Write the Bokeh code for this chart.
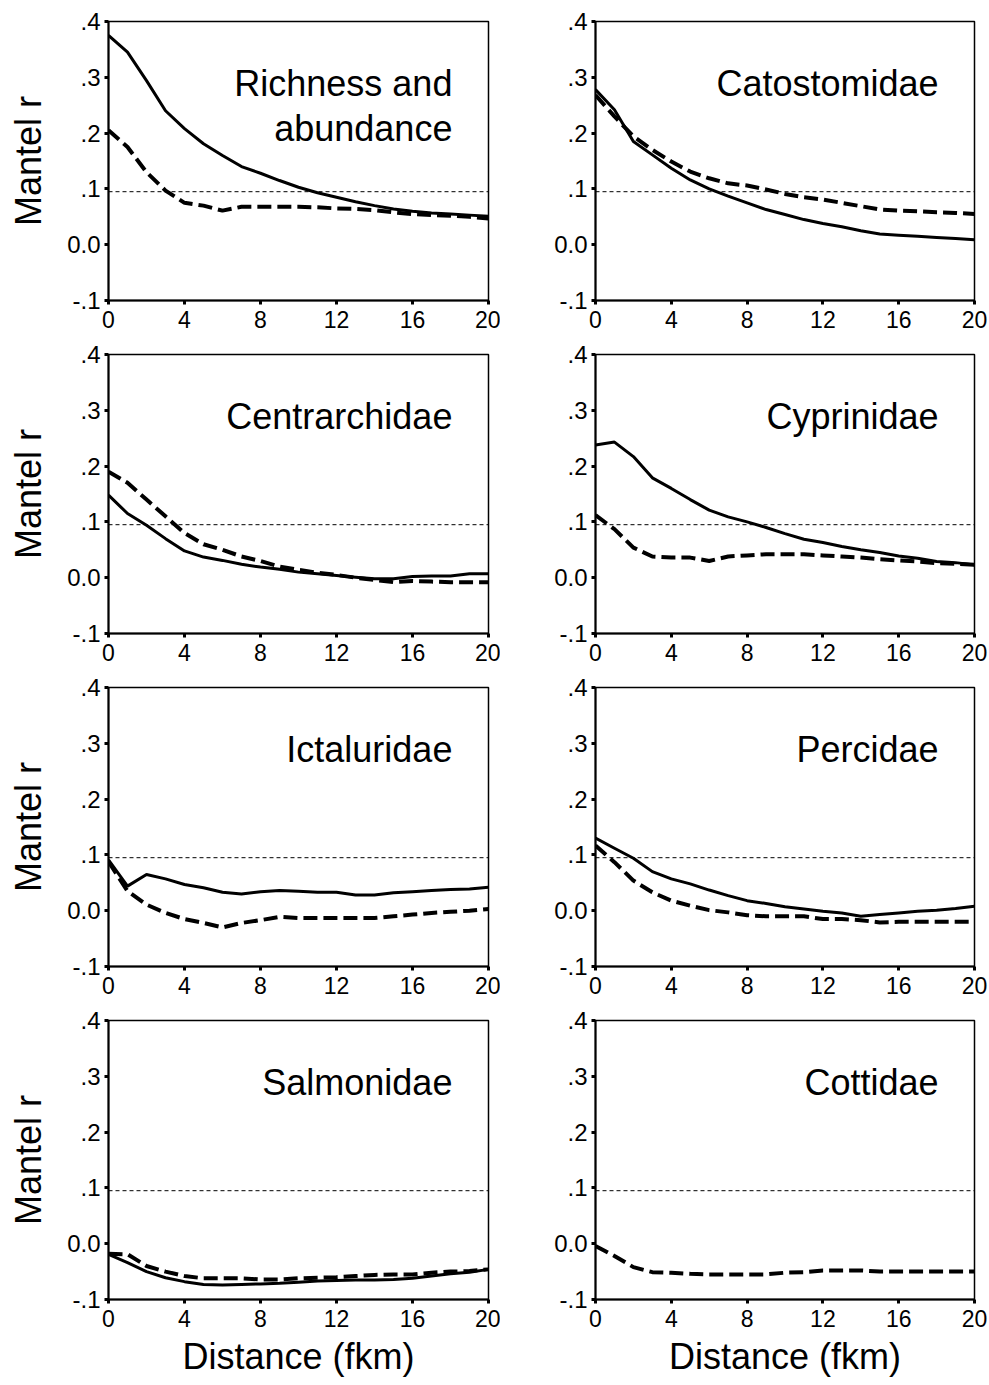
from bokeh.plotting import figure
from bokeh.layouts import gridplot
from bokeh.models import Span, Label, FixedTicker, Range1d
from bokeh.embed import file_html
from bokeh.resources import INLINE

# ---------------- data ----------------
DIST = [0, 1, 2, 3, 4, 5, 6, 7, 8, 9, 10, 11, 12, 13, 14, 15, 16, 17, 18, 19, 20]
X_TICKS = [0, 4, 8, 12, 16, 20]
Y_TICKS = [-0.1, 0, 0.1, 0.2, 0.3, 0.4]
Y_TICK_LABELS = ["-.1", "0.0", ".1", ".2", ".3", ".4"]
CRIT_R = 0.095

TITLES = [
    ["Richness and", "abundance"],
    ["Catostomidae"],
    ["Centrarchidae"],
    ["Cyprinidae"],
    ["Ictaluridae"],
    ["Percidae"],
    ["Salmonidae"],
    ["Cottidae"],
]

rich_solid = [0.375, 0.345, 0.294, 0.240, 0.208, 0.181, 0.160, 0.140, 0.128, 0.115, 0.103,
              0.093, 0.085, 0.077, 0.070, 0.064, 0.060, 0.057, 0.055, 0.053, 0.051]
rich_dash = [0.205, 0.175, 0.130, 0.097, 0.075, 0.070, 0.061, 0.068, 0.068, 0.068, 0.068,
             0.067, 0.065, 0.064, 0.062, 0.058, 0.055, 0.053, 0.052, 0.050, 0.047]

cato_solid = [0.278, 0.242, 0.185, 0.161, 0.137, 0.116, 0.100, 0.087, 0.075, 0.063, 0.054,
              0.045, 0.038, 0.032, 0.025, 0.019, 0.017, 0.015, 0.013, 0.011, 0.009]
cato_dash = [0.268, 0.230, 0.194, 0.170, 0.149, 0.131, 0.119, 0.110, 0.106, 0.099, 0.091,
             0.085, 0.081, 0.075, 0.069, 0.063, 0.061, 0.060, 0.058, 0.057, 0.055]

cent_solid = [0.148, 0.115, 0.094, 0.070, 0.048, 0.037, 0.031, 0.024, 0.019, 0.015, 0.010,
              0.007, 0.004, 0.001, -0.002, -0.002, 0.002, 0.003, 0.003, 0.007, 0.007]
cent_dash = [0.190, 0.170, 0.140, 0.110, 0.080, 0.060, 0.050, 0.038, 0.030, 0.020, 0.014,
             0.009, 0.005, 0.000, -0.004, -0.008, -0.006, -0.007, -0.008, -0.008, -0.008]

cypr_solid = [0.238, 0.243, 0.217, 0.179, 0.160, 0.140, 0.121, 0.109, 0.100, 0.090, 0.079,
              0.069, 0.063, 0.056, 0.050, 0.045, 0.039, 0.035, 0.029, 0.027, 0.023]
cypr_dash = [0.112, 0.087, 0.054, 0.038, 0.036, 0.036, 0.030, 0.038, 0.040, 0.042, 0.042,
             0.042, 0.040, 0.038, 0.036, 0.033, 0.031, 0.029, 0.026, 0.025, 0.023]

icta_solid = [0.091, 0.044, 0.065, 0.057, 0.047, 0.041, 0.033, 0.030, 0.034, 0.036, 0.035,
              0.033, 0.033, 0.028, 0.028, 0.032, 0.034, 0.036, 0.038, 0.039, 0.042]
icta_dash = [0.088, 0.035, 0.011, -0.004, -0.015, -0.022, -0.030, -0.022, -0.017, -0.011, -0.013,
             -0.013, -0.013, -0.013, -0.013, -0.010, -0.007, -0.004, -0.002, 0.000, 0.003]

perc_solid = [0.130, 0.112, 0.094, 0.070, 0.057, 0.048, 0.037, 0.027, 0.018, 0.013, 0.007,
              0.003, -0.001, -0.004, -0.010, -0.007, -0.004, -0.001, 0.001, 0.004, 0.008]
perc_dash = [0.117, 0.087, 0.054, 0.033, 0.018, 0.009, 0.001, -0.003, -0.008, -0.010, -0.010,
             -0.010, -0.015, -0.015, -0.017, -0.021, -0.020, -0.020, -0.020, -0.020, -0.020]

salm_solid = [-0.019, -0.034, -0.050, -0.061, -0.068, -0.073, -0.074, -0.073, -0.072, -0.071, -0.069,
              -0.067, -0.066, -0.065, -0.065, -0.064, -0.062, -0.058, -0.054, -0.051, -0.046]
salm_dash = [-0.018, -0.019, -0.040, -0.050, -0.058, -0.062, -0.062, -0.062, -0.064, -0.064, -0.062,
             -0.061, -0.060, -0.058, -0.056, -0.055, -0.055, -0.052, -0.050, -0.049, -0.046]

cott_solid = None
cott_dash = [-0.004, -0.022, -0.042, -0.051, -0.052, -0.054, -0.055, -0.055, -0.055, -0.055, -0.052,
             -0.051, -0.048, -0.048, -0.048, -0.050, -0.050, -0.050, -0.050, -0.050, -0.050]

SOLID = [rich_solid, cato_solid, cent_solid, cypr_solid, icta_solid, perc_solid, salm_solid, cott_solid]
DASHED = [rich_dash, cato_dash, cent_dash, cypr_dash, icta_dash, perc_dash, salm_dash, cott_dash]

# ---------------- styling ----------------
FONT = "Liberation Sans"
X_TICK_SIZE = "23px"
Y_TICK_SIZE = "24px"
AXIS_LABEL_SIZE = "36px"
TITLE_SIZE = "36px"


def make_panel(idx):
    col = idx % 2
    row = idx // 2
    left = col == 0
    bottom = row == 3
    top = row == 0
    width = 500 if left else 489
    border_top = 21 if top else 17
    border_bottom = 86 if bottom else 37
    height = border_top + 279 + border_bottom
    p = figure(width=width, height=height, output_backend="svg", toolbar_location=None,
               x_range=Range1d(0, 20), y_range=Range1d(-0.1, 0.4),
               min_border=0)
    p.min_border_left = 108 if left else 95
    p.min_border_right = 12 if left else 15
    p.min_border_top = border_top
    p.min_border_bottom = border_bottom
    p.background_fill_color = "white"
    p.border_fill_color = "white"
    p.outline_line_color = "black"
    p.outline_line_width = 1.5
    p.xgrid.visible = False
    p.ygrid.visible = False

    for ax in (p.xaxis[0], p.yaxis[0]):
        ax.axis_line_color = "black"
        ax.axis_line_width = 2
        ax.major_tick_line_color = "black"
        ax.major_tick_line_width = 3
        ax.major_tick_out = 4
        ax.major_tick_in = 0
        ax.minor_tick_line_color = None
        ax.major_label_text_font = FONT
        ax.major_label_text_color = "black"
        ax.axis_label_text_font = FONT
        ax.axis_label_text_font_size = AXIS_LABEL_SIZE
        ax.axis_label_text_font_style = "normal"
        ax.axis_label_text_color = "black"

    p.xaxis.major_label_text_font_size = X_TICK_SIZE
    p.yaxis.major_label_text_font_size = Y_TICK_SIZE
    p.xaxis.ticker = FixedTicker(ticks=X_TICKS)
    p.yaxis.ticker = FixedTicker(ticks=Y_TICKS)
    p.yaxis.major_label_overrides = {t: lab for t, lab in zip(Y_TICKS, Y_TICK_LABELS)}
    p.xaxis.major_label_standoff = 6
    p.yaxis.major_label_standoff = 4

    if left:
        p.yaxis.axis_label = "Mantel r"
        p.yaxis.axis_label_standoff = 15
    if bottom:
        p.xaxis.axis_label = "Distance (fkm)"
        p.xaxis.axis_label_standoff = 6

    p.add_layout(Span(location=CRIT_R, dimension="width", line_color="black",
                      line_width=1, line_dash="4 3"))

    dashed = DASHED[idx]
    solid = SOLID[idx]
    if dashed is not None:
        p.line(DIST, dashed, line_color="black", line_width=4, line_dash="14 6")
    if solid is not None:
        p.line(DIST, solid, line_color="black", line_width=3)

    title_y = [0.289, 0.208]
    for k, txt in enumerate(TITLES[idx]):
        p.add_layout(Label(x=18.1, y=title_y[k], text=txt, text_align="right",
                           text_baseline="alphabetic", text_font=FONT,
                           text_font_size=TITLE_SIZE, text_color="black"))
    return p


panels = [make_panel(i) for i in range(8)]
grid = gridplot([[panels[0], panels[1]], [panels[2], panels[3]],
                 [panels[4], panels[5]], [panels[6], panels[7]]],
                toolbar_location=None)

open("out.html", "w").write(file_html(grid, INLINE))
